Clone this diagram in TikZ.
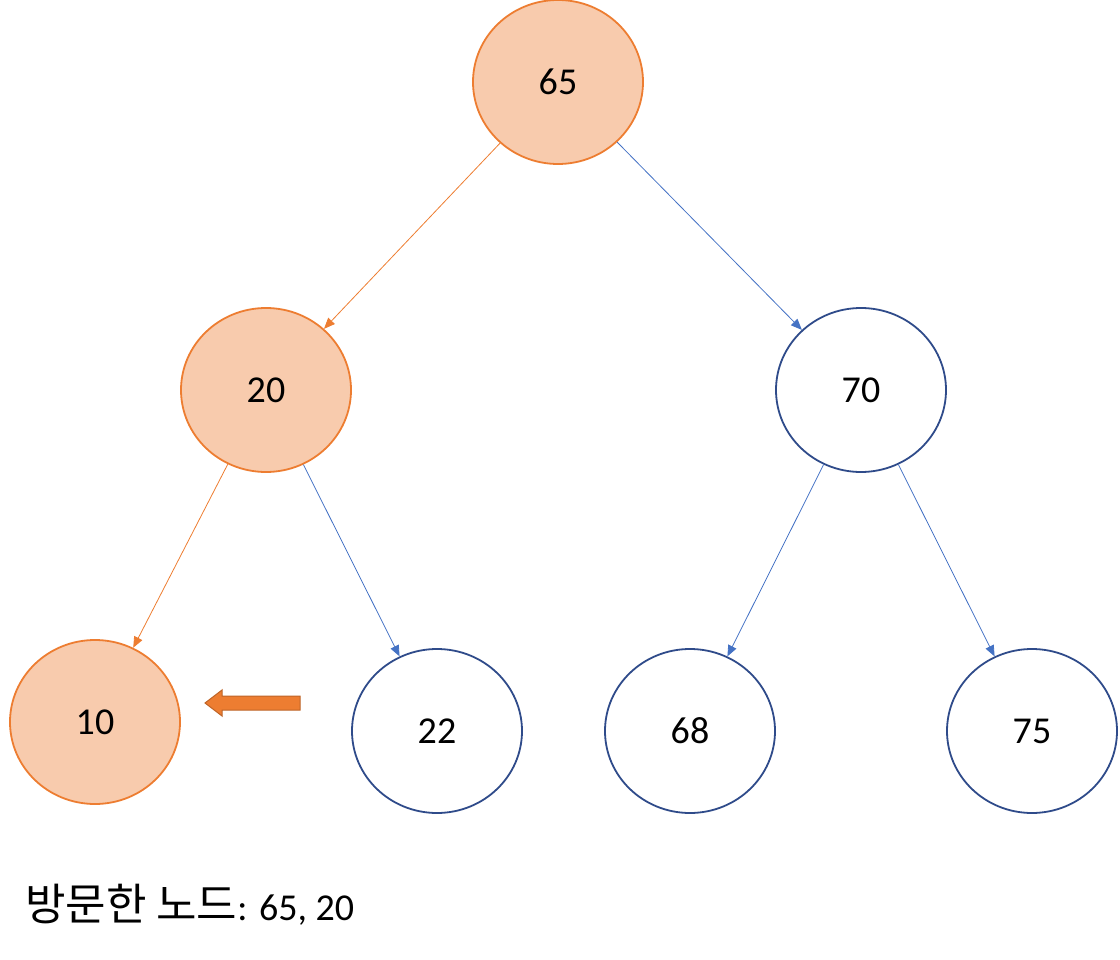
\documentclass[tikz,border=0pt]{standalone}
\usepackage{fontspec}
\setmainfont{Carlito}
\newfontfamily\kr{Noto Sans CJK KR}
\usetikzlibrary{shapes.geometric,arrows.meta}
\definecolor{org}{HTML}{ED7D31}
\definecolor{orgf}{HTML}{F8CBAD}
\definecolor{bdk}{HTML}{2F4B8A}
\definecolor{blu}{HTML}{4472C4}
\begin{document}
\begin{tikzpicture}[x=1pt,y=-1pt,
 nd/.style={ellipse,minimum width=170,minimum height=164,line width=1.8pt,draw=bdk,fill=white,font=\fontsize{38}{40}\selectfont,inner sep=0},
 vis/.style={nd,draw=org,fill=orgf},
 e/.style={blu,line width=0.8pt,-{Triangle[length=11,width=9]}},
 eo/.style={e,org}]
\useasboundingbox (0,0) rectangle (1120,960);
\node[vis] (n65) at (558,82) {65};
\node[vis] (n20) at (266,390) {20};
\node[nd] (n70) at (861,390) {70};
\node[vis] (n10) at (95,722) {10};
\node[nd] (n22) at (437,731) {22};
\node[nd] (n68) at (690,731) {68};
\node[nd] (n75) at (1032,731) {75};
\draw[eo] (n65) -- (n20);
\draw[e] (n65) -- (n70);
\draw[eo] (n20) -- (n10);
\draw[e] (n20) -- (n22);
\draw[e] (n70) -- (n68);
\draw[e] (n70) -- (n75);
\draw[org!80!black,fill=org,line width=1pt] (300,696) -- (222,696) -- (222,690) -- (205,703) -- (222,716) -- (222,710) -- (300,710) -- cycle;
\node[anchor=west,inner sep=0] (lbl) at (25,905) {{\kr\fontsize{44}{46}\selectfont 방문한 노드}\fontsize{38}{40}\selectfont: 65, 20};
\end{tikzpicture}
\end{document}
